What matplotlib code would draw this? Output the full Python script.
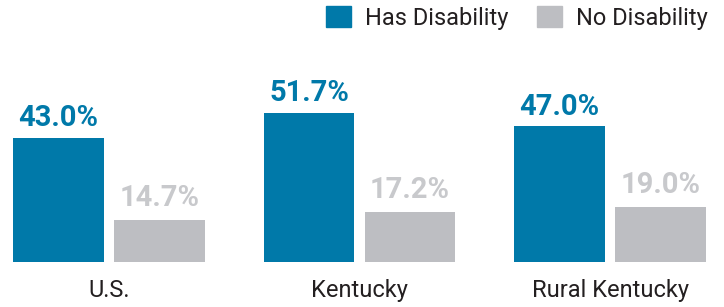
import matplotlib
matplotlib.use("Agg")
import matplotlib.pyplot as plt
from matplotlib.patches import Patch
import numpy as np

categories = ["U.S.", "Kentucky", "Rural Kentucky"]
has_disability = [43.0, 51.7, 47.0]
no_disability = [14.7, 17.2, 19.0]
series_names = ["Has Disability", "No Disability"]

BLUE = "#0079a9"
GRAY = "#bdbec2"
GRAY_TXT = "#c8c9cc"
DARK = "#231f20"

plt.rcParams['font.family'] = ['Roboto', 'DejaVu Sans']

fig = plt.figure(figsize=(7.24, 3.07), dpi=100)
ax = fig.add_axes([0, 0, 1, 1])
ax.set_xlim(-0.435, 2.455)
ax.set_ylim(-15.6, 90.8)
ax.axis("off")

x = np.arange(len(categories))
w = 0.363
off = 0.2016
b1 = ax.bar(x - off, has_disability, w, color=BLUE)
b2 = ax.bar(x + off, no_disability, w, color=GRAY)

for rect, v in zip(b1, has_disability):
    ax.annotate(f"{v:.1f}%", (rect.get_x() + rect.get_width() / 2, v),
                xytext=(0, 8.5), textcoords="offset points", ha="center",
                va="baseline", fontsize=21, fontweight="bold", color=BLUE)
for rect, v in zip(b2, no_disability):
    ax.annotate(f"{v:.1f}%", (rect.get_x() + rect.get_width() / 2, v),
                xytext=(0, 10), textcoords="offset points", ha="center",
                va="baseline", fontsize=21, fontweight="bold", color=GRAY_TXT)

for xi, c in zip(x, categories):
    ax.text(xi, -12.1, c, ha="center", va="baseline", fontsize=17, color=DARK)

handles = [Patch(color=BLUE), Patch(color=GRAY)]
fig.legend(handles, series_names, loc="upper right", bbox_to_anchor=(1.0, 1.035),
           ncol=2, frameon=False, fontsize=17, handlelength=1.06, handleheight=1.02,
           handletextpad=0.6, columnspacing=1.19, borderaxespad=0.3,
           labelcolor=DARK)

fig.savefig("out.png", dpi=100)
